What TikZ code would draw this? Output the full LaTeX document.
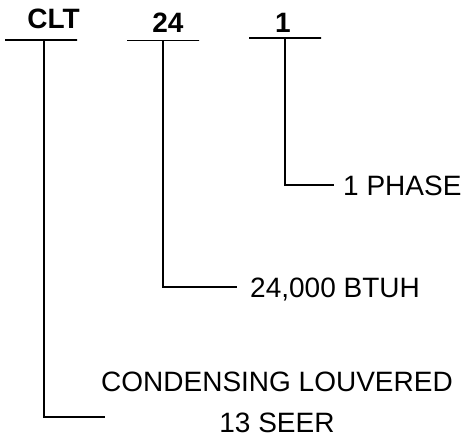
\documentclass[tikz,border=0pt]{standalone}
\usepackage{fontspec}
\setmainfont{Liberation Sans}
\usetikzlibrary{positioning}
\tikzstyle{code} = [font=\fontsize{28}{32}\selectfont\bfseries, inner sep=0pt, anchor=base]
\tikzstyle{bar} = [draw, line width=1.6pt, minimum width=72pt, minimum height=0pt, inner sep=0pt]
\tikzstyle{desc} = [font=\fontsize{28}{41}\selectfont, inner xsep=9pt, inner ysep=0pt, text height=20pt, text depth=0pt, anchor=west]
\tikzstyle{leader} = [line width=1.6pt]

\begin{document}
\begin{tikzpicture}[x=1pt, y=-1pt]
\useasboundingbox (0,0) rectangle (466,440);
\node (cltbar) [bar] at (41,40) {};
\node (capbar) [bar] at (163,40.5) {};
\node (onebar) [bar] at (285,38) {};
\node (clt) [code] at (53.5,28) {CLT};
\node (cap) [code] at (168,32) {24};
\node (one) [code] at (283,32) {1};

\node (phase) [desc] at (334,185) {1 PHASE};
\node (btuh) [desc, inner xsep=13pt] at (237,287) {24,000 BTUH};
\node (cond) [desc, align=center, anchor=north, text height=, text depth=] at (277,372) {CONDENSING LOUVERED\\13 SEER};
\coordinate (condend) at (105,417);

% leaders to the descriptions
\draw [leader] (onebar.center) |- (phase.west);
\draw [leader] (capbar.center) |- (btuh.west);
\draw [leader] ([xshift=3pt]cltbar.center) |- (condend);

\end{tikzpicture}
\end{document}
